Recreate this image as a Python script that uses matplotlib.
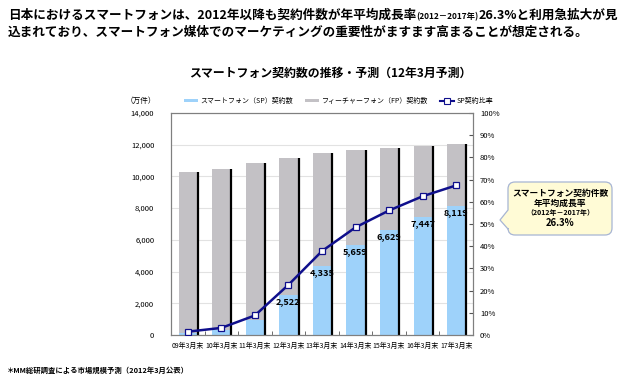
import matplotlib
matplotlib.use('Agg')
import matplotlib.pyplot as plt
from matplotlib.patches import Patch, PathPatch
from matplotlib.lines import Line2D
from matplotlib.path import Path
from matplotlib.ticker import FuncFormatter
import numpy as np

plt.rcParams['font.family'] = ['Noto Sans CJK JP', 'DejaVu Sans']

# data (万件 / %)
periods = ['09年3月末', '10年3月末', '11年3月末', '12年3月末', '13年3月末',
           '14年3月末', '15年3月末', '16年3月末', '17年3月末']
sp_units = [150, 330, 955, 2522, 4335, 5659, 6629, 7447, 8119]
fp_units = [10100, 10140, 9875, 8638, 7145, 6011, 5181, 4473, 3921]
sp_ratio = [1.5, 3.2, 8.8, 22.6, 37.8, 48.5, 56.1, 62.5, 67.4]
labelled = [False, False, False, True, True, True, True, True, True]

SP_COLOR = '#9ED2FA'
FP_COLOR = '#C3C1C5'
LINE_COLOR = '#0F0F8C'

W, H = 630, 382
fig = plt.figure(figsize=(W / 100, H / 100), dpi=100)
fig.patch.set_facecolor('white')


def px(x, y):
    # pixel position (top-left origin) -> figure fraction
    return x / W, 1 - y / H


# ---- headline (mixed font sizes on the first line)
renderer = fig.canvas.get_renderer()
pieces = [('日本におけるスマートフォンは、2012年以降も契約件数が年平均成長率', 9.1),
          ('(2012－2017年)', 6.0),
          ('26.3%と利用急拡大が見', 9.1)]
xpos = 8
for txt, size in pieces:
    t = fig.text(*px(xpos, 19), txt, fontsize=size, fontweight='bold',
                 va='baseline', ha='left')
    xpos += t.get_window_extent(renderer).width
fig.text(*px(8, 36), '込まれており、スマートフォン媒体でのマーケティングの重要性がますます高まることが想定される。',
         fontsize=9.1, fontweight='bold', va='baseline', ha='left')

# ---- chart title
fig.text(*px(330, 73), 'スマートフォン契約数の推移・予測（12年3月予測）',
         fontsize=8.6, fontweight='bold', ha='center', va='center')

# ---- main axes
ax = fig.add_axes([171 / W, 1 - 335 / H, (473 - 171) / W, (335 - 113) / H])
x = np.arange(len(periods))
width = 0.54
sp = np.array(sp_units)
fp = np.array(fp_units)
total = sp + fp

ax.bar(x, sp, width, color=SP_COLOR, zorder=2)
ax.bar(x, fp, width, bottom=sp, color=FP_COLOR, zorder=2)
# dark shadow on the right edge of each bar
ax.vlines(x + width / 2 + 0.03, 0, total, color='black', lw=1.6, zorder=2)

for xi, v, show in zip(x, sp, labelled):
    if show:
        ax.annotate('{:,}'.format(v), (xi, v), xytext=(0, -4.5), textcoords='offset points',
                    ha='center', va='center', fontsize=6.6, fontweight='bold', zorder=3)

ax.set_xlim(-0.5, len(periods) - 0.5)
ax.set_ylim(0, 14000)
ax.set_yticks(np.arange(0, 14001, 2000))
ax.yaxis.set_major_formatter(FuncFormatter(lambda v, p: '{:,}'.format(int(v))))
ax.set_xticks(x)
ax.set_xticklabels(periods)
ax.set_xticks(np.arange(0.5, len(periods) - 1, 1), minor=True)
ax.tick_params(axis='x', which='major', length=0, labelsize=5, pad=5)
ax.tick_params(axis='x', which='minor', length=3, direction='in', color='#555555')
ax.tick_params(axis='y', length=0, labelsize=5.5, pad=12)
ax.yaxis.grid(True, color='#E2E2E2', lw=0.8, zorder=0)
ax.set_axisbelow(True)
for s in ax.spines.values():
    s.set_color('#7F7F7F')
    s.set_linewidth(0.8)

ax2 = ax.twinx()
ax2.plot(x, sp_ratio, color=LINE_COLOR, lw=1.8, marker='s', ms=4.5,
         mfc='white', mec=LINE_COLOR, mew=0.9, zorder=4)
ax2.set_ylim(0, 100)
ax2.set_yticks(np.arange(0, 101, 10))
ax2.yaxis.set_major_formatter(FuncFormatter(lambda v, p: '{}%'.format(int(v))))
ax2.tick_params(axis='y', direction='in', length=3, labelsize=5.5, pad=5, color='#555555')
for s in ax2.spines.values():
    s.set_color('#7F7F7F')
    s.set_linewidth(0.8)

# ---- legend
fig.text(*px(141, 101), '（万件）', fontsize=5.5, ha='center', va='center')
handles = [Patch(facecolor=SP_COLOR, edgecolor='none'),
           Patch(facecolor=FP_COLOR, edgecolor='none'),
           Line2D([0], [0], color=LINE_COLOR, lw=1.5, marker='s', ms=4,
                  mfc='white', mec=LINE_COLOR, mew=0.8)]
fig.legend(handles, ['スマートフォン（SP）契約数', 'フィーチャーフォン（FP）契約数', 'SP契約比率'],
           loc='center left', bbox_to_anchor=px(184, 101), ncol=3, frameon=False,
           fontsize=5.0, handlelength=2.0, handleheight=0.45, handletextpad=0.4,
           columnspacing=1.7, borderpad=0, borderaxespad=0)

# ---- callout box
L, R, T, B, r = 508, 612, 182, 235, 7
verts = [(L + r, B), (R - r, B), (R, B), (R, B - r), (R, T + r), (R, T), (R - r, T),
         (L + r, T), (L, T), (L, T + r), (L, 210), (500, 220), (L, 229), (L, B - r),
         (L, B), (L + r, B), (L + r, B)]
codes = [Path.MOVETO, Path.LINETO, Path.CURVE3, Path.CURVE3, Path.LINETO, Path.CURVE3,
         Path.CURVE3, Path.LINETO, Path.CURVE3, Path.CURVE3, Path.LINETO, Path.LINETO,
         Path.LINETO, Path.LINETO, Path.CURVE3, Path.CURVE3, Path.CLOSEPOLY]
callout = PathPatch(Path([px(a, b) for a, b in verts], codes), transform=fig.transFigure,
                    facecolor='#FFFBD6', edgecolor='#A7B5D3', lw=0.9)
fig.add_artist(callout)
fig.text(*px(560, 193), 'スマートフォン契約件数', fontsize=6.3, fontweight='bold', ha='center', va='center')
fig.text(*px(560, 203), '年平均成長率', fontsize=6.3, fontweight='bold', ha='center', va='center')
fig.text(*px(560, 213), '（2012年－2017年）', fontsize=5.0, fontweight='bold', ha='center', va='center')
fig.text(*px(560, 223), '26.3%', fontsize=6.8, fontweight='bold', ha='center', va='center')

# ---- footnote
fig.text(*px(7, 370), '＊MM総研調査による市場規模予測（2012年3月公表）',
         fontsize=5.3, fontweight='bold', ha='left', va='center')

fig.savefig('out.png', dpi=100, facecolor='white')
